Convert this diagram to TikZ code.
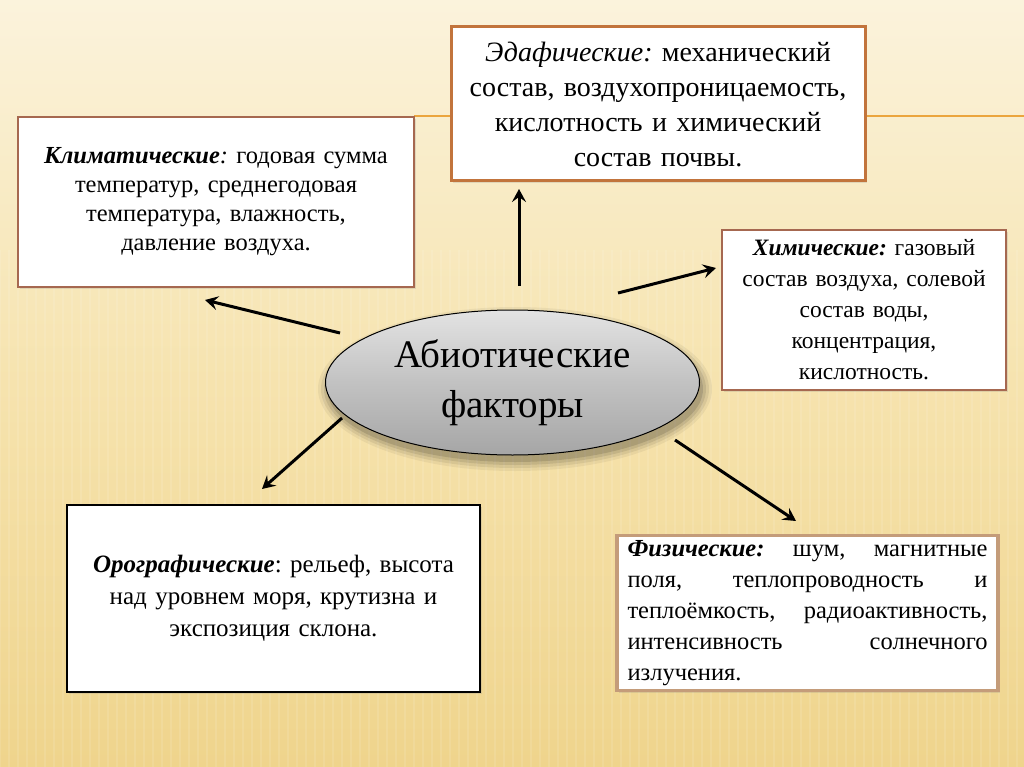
\documentclass[tikz,border=0pt]{standalone}
\usepackage{fontspec}
\setmainfont{Liberation Serif}
\usetikzlibrary{arrows.meta,shapes.geometric,shadows}
\definecolor{bgtop}{HTML}{FBF3DC}
\definecolor{bgmid}{HTML}{F6E3AE}
\definecolor{bgbot}{HTML}{EFD48C}
\definecolor{orangeline}{HTML}{EBA53E}
\definecolor{edbrown}{HTML}{C2743C}
\definecolor{klbrown}{HTML}{A66850}
\definecolor{phbrown}{HTML}{C49C7A}
\tikzset{
  factorbox/.style={rectangle, fill=white, line width=2.5pt, inner sep=0pt, align=center,
    drop shadow={opacity=0.2, shadow xshift=2pt, shadow yshift=-2pt}},
  conn/.style={line width=3pt, -{Stealth[length=13pt,width=14pt,inset=5pt]}},
}
\frenchspacing
\begin{document}
\begin{tikzpicture}[x=1pt,y=-1pt]
\useasboundingbox (0,0) rectangle (1024,767);
% background
\shade[top color=bgtop, bottom color=bgbot, middle color=bgmid] (0,0) rectangle (1024,767);
\foreach \i in {0,9,...,1024} {
  \draw[white, opacity=0.10, line width=2pt] (\i,250) -- (\i,767);
}
% orange line
\coordinate (lineL) at (414,116);
\coordinate (lineR) at (1024,116);
\draw[orangeline, line width=2.5pt] (lineL) -- (lineR);

% boxes
\node[factorbox, draw=edbrown, line width=3pt, minimum width=414pt, minimum height=154pt,
  text width=400pt, font=\fontsize{28}{35}\selectfont] (edaf) at (658,104)
  {\textit{Эдафические:} механический\\ состав, воздухопроницаемость,\\ кислотность и химический\\ состав почвы.};

\node[factorbox, draw=klbrown, minimum width=396pt, minimum height=170pt,
  text width=380pt, font=\fontsize{24.5}{29}\selectfont] (klim) at (216,202)
  {\textbf{\textit{Климатические}}\textit{:} годовая сумма\\ температур, среднегодовая\\ температура, влажность,\\ давление воздуха.};

\node[factorbox, draw=klbrown, minimum width=284pt, minimum height=160pt,
  text width=276pt, font=\fontsize{23.5}{31}\selectfont] (chem) at (864,310)
  {\textbf{\textit{Химические:}} газовый\\ состав воздуха, солевой\\ состав воды,\\ концентрация,\\ кислотность.};

\node[factorbox, draw=black, minimum width=413pt, minimum height=187pt,
  text width=400pt, font=\fontsize{25}{32}\selectfont] (oro) at (273.5,598.5)
  {\textbf{\textit{Орографические}}: рельеф, высота\\ над уровнем моря, крутизна и\\ экспозиция склона.};

\node[factorbox, draw=phbrown, line width=3.5pt, minimum width=381pt, minimum height=155pt,
  text width=360pt, align=left, font=\fontsize{24.5}{31}\selectfont] (phys) at (807.5,613)
  {\textbf{\textit{Физические:}}\hfill шум,\hfill магнитные\\
   поля,\hfill теплопроводность\hfill и\\
   теплоёмкость,\hfill радиоактивность,\\
   интенсивность\hfill солнечного\\
   излучения.};

% soft shadow of the ellipse
\foreach \k/\o in {10/0.05,7/0.07,4/0.09,1/0.12} {
  \fill[black, opacity=\o] (515,389) ellipse ({187+\k} and {72+\k});
}
% central ellipse
\node[ellipse, draw=black, line width=1pt, minimum width=374pt, minimum height=145pt,
  top color=gray!22, bottom color=gray!70, middle color=gray!48,
  align=center, font=\fontsize{39}{50}\selectfont] (abio) at (512.5,382.5)
  {Абиотические\\ факторы};

% connector end points
\coordinate (sUp) at (519,286);
\coordinate (eUp) at (519,189);
\coordinate (sLU) at (340,333);
\coordinate (eLU) at (205,300);
\coordinate (sRU) at (618,293);
\coordinate (eRU) at (716,268);
\coordinate (sLD) at (342,418);
\coordinate (eLD) at (262,489);
\coordinate (sRD) at (675,440);
\coordinate (eRD) at (796,521);

\draw[conn] (sUp) -- (eUp);
\draw[conn] (sLU) -- (eLU);
\draw[conn] (sRU) -- (eRU);
\draw[conn] (sLD) -- (eLD);
\draw[conn] (sRD) -- (eRD);
\end{tikzpicture}
\end{document}
